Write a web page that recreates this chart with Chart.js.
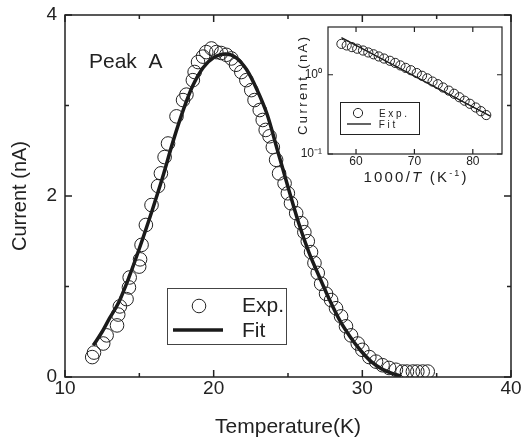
<!DOCTYPE html>
<html>
<head>
<meta charset="utf-8">
<script src="https://cdn.jsdelivr.net/npm/chart.js@4.4.1/dist/chart.umd.min.js"></script>
<style>
  body { margin: 0; background: #fff; }
  #wrap { position: relative; width: 521px; height: 441px; }
  #main { position: absolute; left: 0; top: 0; }
  #inset { position: absolute; left: 280px; top: 20px; }
</style>
</head>
<body>
<div id="wrap">
  <canvas id="main" width="521" height="441"></canvas>
  <canvas id="inset" width="230" height="170"></canvas>
</div>
<script>
// main panel: TSC peak A
const expTemp = [11.83, 11.95, 12.57, 12.80, 13.50, 13.58, 13.69, 14.14, 14.30, 14.35, 14.99, 15.05, 15.15, 15.44, 15.82, 16.26,
  16.45, 16.70, 16.93, 17.50, 17.94, 18.17, 18.60, 18.72, 18.95, 19.28, 19.50, 19.85, 20.18, 20.50, 20.85, 21.19, 21.50, 21.86,
  22.20, 22.53, 22.75, 23.10, 23.30, 23.50, 23.76, 23.98, 24.20, 24.40, 24.77, 24.99, 25.20, 25.55, 25.89, 26.10, 26.33, 26.55,
  26.78, 27.00, 27.23, 27.56, 27.90, 28.23, 28.57, 28.90, 29.24, 29.69, 30.00, 30.47, 30.92, 31.36, 31.80, 32.26, 32.70, 33.00,
  33.40, 33.70, 34.06, 34.40];
const expCurrent = [0.22, 0.27, 0.37, 0.46, 0.57, 0.69, 0.78, 0.86, 0.99, 1.10, 1.22, 1.30, 1.46, 1.68, 1.90, 2.11,
  2.25, 2.43, 2.58, 2.88, 3.06, 3.12, 3.28, 3.37, 3.48, 3.54, 3.59, 3.63, 3.59, 3.58, 3.56, 3.52, 3.45, 3.37,
  3.28, 3.17, 3.06, 2.95, 2.84, 2.73, 2.66, 2.54, 2.40, 2.25, 2.14, 2.03, 1.92, 1.81, 1.70, 1.60, 1.50, 1.38,
  1.26, 1.15, 1.03, 0.92, 0.85, 0.76, 0.67, 0.56, 0.46, 0.37, 0.30, 0.22, 0.17, 0.13, 0.10, 0.08, 0.06, 0.06,
  0.06, 0.06, 0.06, 0.06];
const fitTemp = [11.9, 12.5, 13.0, 13.6, 14.3, 15.0, 15.9, 16.5, 17.3, 18.0, 18.6, 19.3, 20.0, 20.8, 21.5, 22.2,
  22.9, 23.6, 24.3, 25.0, 25.7, 26.4, 27.1, 27.8, 28.5, 29.2, 29.9, 30.6, 31.3, 32.0, 32.6];
const fitCurrent = [0.35, 0.50, 0.65, 0.82, 1.10, 1.42, 1.86, 2.17, 2.62, 2.97, 3.22, 3.42, 3.53, 3.57, 3.53, 3.40,
  3.18, 2.90, 2.50, 2.10, 1.71, 1.38, 1.11, 0.85, 0.62, 0.44, 0.29, 0.17, 0.09, 0.04, 0.01];
const xTicks = [10, 20, 30, 40];
const xMinor = [15, 25, 35];
const yTicks = [0, 2, 4];
const yMinor = [1, 3];

// inset: Arrhenius plot
const insetX = [57.5, 58.4, 59.3, 60.2, 61.2, 62.1, 63.0, 63.9, 64.8, 65.8, 66.7, 67.6, 68.5, 69.4,
  70.4, 71.3, 72.2, 73.1, 74.0, 74.9, 75.9, 76.8, 77.7, 78.6, 79.5, 80.5, 81.4, 82.3];
const insetExp = [2.45, 2.34, 2.23, 2.13, 2.02, 1.91, 1.81, 1.70, 1.60, 1.50, 1.41, 1.31, 1.22, 1.14,
  1.05, 0.97, 0.90, 0.82, 0.76, 0.69, 0.63, 0.575, 0.52, 0.47, 0.43, 0.386, 0.347, 0.31];
const insetFitX = [57.5, 83.0];
const insetFit = [2.94, 0.30];
const insetXTicks = [60, 70, 80];
const insetYTicks = [0.1, 1];
const insetYLabels = ['10\u207B\u00B9', '10\u2070'];

const FONT = '"Liberation Sans", Arial, Helvetica, sans-serif';
const INK = '#222';
Chart.defaults.font.family = FONT;
Chart.defaults.color = INK;

// box frame + inward ticks on all four sides
const framePlugin = {
  id: 'frame',
  afterDatasetsDraw(chart, args, opts) {
    const { ctx, chartArea: a, scales: { x, y } } = chart;
    ctx.save();
    ctx.strokeStyle = INK;
    ctx.lineWidth = opts.lineWidth;
    ctx.strokeRect(a.left, a.top, a.right - a.left, a.bottom - a.top);
    ctx.beginPath();
    const vx = (v, len) => {
      const px = x.getPixelForValue(v);
      ctx.moveTo(px, a.bottom); ctx.lineTo(px, a.bottom - len);
      ctx.moveTo(px, a.top); ctx.lineTo(px, a.top + len);
    };
    const vy = (v, len) => {
      const py = y.getPixelForValue(v);
      ctx.moveTo(a.left, py); ctx.lineTo(a.left + len, py);
      ctx.moveTo(a.right, py); ctx.lineTo(a.right - len, py);
    };
    x.ticks.forEach(t => vx(t.value, opts.major));
    y.ticks.forEach(t => vy(t.value, opts.major));
    (opts.xMinor || []).forEach(v => vx(v, opts.minor));
    (opts.yMinor || []).forEach(v => vy(v, opts.minor));
    ctx.stroke();
    ctx.restore();
  }
};

// text drawn letter by letter with extra spacing; parts = [{t, font, dy}]
function spacedText(ctx, parts, cx, y, gap) {
  const chars = [];
  parts.forEach(p => [...p.t].forEach(ch => chars.push({ ch, font: p.font, dy: p.dy || 0 })));
  let total = 0;
  chars.forEach((c, i) => { ctx.font = c.font; c.w = ctx.measureText(c.ch).width; total += c.w + (i ? gap : 0); });
  let x = cx - total / 2;
  ctx.textAlign = 'left';
  chars.forEach(c => { ctx.font = c.font; ctx.fillText(c.ch, x, y + c.dy); x += c.w + gap; });
}

const mainDecor = {
  id: 'mainDecor',
  afterDraw(chart) {
    const { ctx } = chart;
    const [exp, fit] = chart.data.datasets;
    ctx.save();
    ctx.fillStyle = INK;
    ctx.textBaseline = 'alphabetic';
    ctx.font = '21px ' + FONT;
    ctx.fillText('Peak  A', 89, 68);

    ctx.strokeStyle = '#444';
    ctx.lineWidth = 1;
    ctx.strokeRect(167.5, 288.5, 119, 56);
    ctx.beginPath();
    ctx.arc(199, 306, exp.pointRadius, 0, Math.PI * 2);
    ctx.strokeStyle = exp.borderColor;
    ctx.lineWidth = exp.borderWidth;
    ctx.stroke();
    ctx.fillText(exp.label, 242, 312);
    ctx.beginPath();
    ctx.moveTo(173, 330); ctx.lineTo(223, 330);
    ctx.strokeStyle = fit.borderColor;
    ctx.lineWidth = fit.borderWidth;
    ctx.stroke();
    ctx.fillText(fit.label, 242, 337);
    ctx.restore();
  }
};

const insetDecor = {
  id: 'insetDecor',
  afterDraw(chart) {
    const { ctx } = chart;
    const [exp, fit] = chart.data.datasets;
    ctx.save();
    ctx.fillStyle = INK;
    ctx.textBaseline = 'alphabetic';
    // x title
    spacedText(ctx, [
      { t: '1000/', font: '15px ' + FONT },
      { t: 'T', font: 'italic 15px ' + FONT },
      { t: ' (K', font: '15px ' + FONT },
      { t: '-1', font: '9px ' + FONT, dy: -6 },
      { t: ')', font: '15px ' + FONT }
    ], 135, 162, 2.2);
    // y title
    ctx.save();
    ctx.translate(27, 66);
    ctx.rotate(-Math.PI / 2);
    spacedText(ctx, [{ t: 'Current (nA)', font: '13px ' + FONT }], 0, 0, 2.4);
    ctx.restore();
    // legend
    ctx.strokeStyle = INK;
    ctx.lineWidth = 1;
    ctx.strokeRect(60.5, 82.5, 79, 32);
    ctx.beginPath();
    ctx.arc(78, 93, exp.pointRadius, 0, Math.PI * 2);
    ctx.lineWidth = exp.borderWidth;
    ctx.stroke();
    spacedText(ctx, [{ t: 'Exp.', font: '10px ' + FONT }], 113, 97, 2.7);
    ctx.beginPath();
    ctx.moveTo(67, 104); ctx.lineTo(91, 104);
    ctx.lineWidth = fit.borderWidth;
    ctx.stroke();
    spacedText(ctx, [{ t: 'Fit', font: '10px ' + FONT }], 107, 108, 2.7);
    ctx.restore();
  }
};

function pinX(h) {
  return s => { s.height = h; s.paddingLeft = 0; s.paddingRight = 0; };
}
function pinY(w) {
  return s => { s.width = w; s.paddingTop = 0; s.paddingBottom = 0; };
}

new Chart(document.getElementById('main'), {
  type: 'scatter',
  data: {
    datasets: [{
      label: 'Exp.',
      data: expTemp.map((t, i) => ({ x: t, y: expCurrent[i] })),
      pointRadius: 6.8,
      pointBackgroundColor: 'rgba(0,0,0,0)',
      borderColor: INK,
      borderWidth: 1
    }, {
      label: 'Fit',
      data: fitTemp.map((t, i) => ({ x: t, y: fitCurrent[i] })),
      showLine: true,
      pointRadius: 0,
      borderColor: '#1a1a1a',
      borderWidth: 3.5,
      cubicInterpolationMode: 'monotone'
    }]
  },
  options: {
    responsive: false,
    animation: false,
    devicePixelRatio: 1,
    layout: { padding: { left: 0, right: 10, top: 15, bottom: 0 } },
    plugins: {
      legend: { display: false },
      tooltip: { enabled: false },
      frame: { lineWidth: 1.5, major: 7, minor: 4, xMinor: xMinor, yMinor: yMinor }
    },
    scales: {
      x: {
        type: 'linear', min: 10, max: 40,
        afterBuildTicks: s => { s.ticks = xTicks.map(v => ({ value: v })); },
        afterFit: pinX(64),
        grid: { display: false, drawTicks: false },
        border: { display: false },
        ticks: { padding: 0, font: { size: 19 }, color: INK },
        title: { display: true, text: 'Temperature(K)', font: { size: 21 }, color: INK, padding: { top: 0, bottom: 1 } }
      },
      y: {
        type: 'linear', min: 0, max: 4,
        afterBuildTicks: s => { s.ticks = yTicks.map(v => ({ value: v })); },
        afterFit: pinY(65),
        grid: { display: false, drawTicks: false },
        border: { display: false },
        ticks: { padding: 8, font: { size: 19 }, color: INK },
        title: { display: true, text: 'Current (nA)', font: { size: 20 }, color: INK, padding: { top: 8, bottom: 0 } }
      }
    }
  },
  plugins: [framePlugin, mainDecor]
});

new Chart(document.getElementById('inset'), {
  type: 'scatter',
  data: {
    datasets: [{
      label: 'Exp.',
      data: insetX.map((v, i) => ({ x: v, y: insetExp[i] })),
      pointRadius: 4.6,
      pointBackgroundColor: 'rgba(0,0,0,0)',
      borderColor: INK,
      borderWidth: 1
    }, {
      label: 'Fit',
      data: insetFitX.map((v, i) => ({ x: v, y: insetFit[i] })),
      showLine: true,
      pointRadius: 0,
      borderColor: '#1a1a1a',
      borderWidth: 1.4
    }]
  },
  options: {
    responsive: false,
    animation: false,
    devicePixelRatio: 1,
    layout: { padding: { left: 0, right: 8, top: 7, bottom: 0 } },
    plugins: {
      legend: { display: false },
      tooltip: { enabled: false },
      frame: { lineWidth: 1.2, major: 5, minor: 0 }
    },
    scales: {
      x: {
        type: 'linear', min: 55.2, max: 85,
        afterBuildTicks: s => { s.ticks = insetXTicks.map(v => ({ value: v })); },
        afterFit: pinX(36),
        grid: { display: false, drawTicks: false },
        border: { display: false },
        ticks: { padding: 0, font: { size: 12 }, color: INK }
      },
      y: {
        type: 'logarithmic', min: 0.1, max: 4,
        afterBuildTicks: s => { s.ticks = insetYTicks.map(v => ({ value: v })); },
        afterFit: pinY(48),
        grid: { display: false, drawTicks: false },
        border: { display: false },
        ticks: {
          padding: 6, font: { size: 12 }, color: INK,
          callback: v => insetYLabels[insetYTicks.indexOf(v)]
        }
      }
    }
  },
  plugins: [framePlugin, insetDecor]
});
</script>
</body>
</html>
